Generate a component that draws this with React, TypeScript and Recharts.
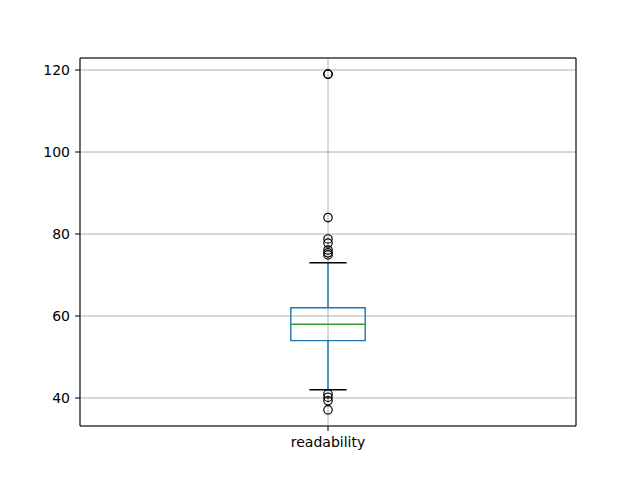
import { ComposedChart, Scatter, XAxis, YAxis, CartesianGrid, ReferenceArea, ReferenceLine } from "recharts";

const category = "readability";
const yTicks = [40, 60, 80, 100, 120];
const yDomain = [33.17, 122.93];

// box stats
const q1 = 54;
const median = 58;
const q3 = 62;
const whiskerLow = 42;
const whiskerHigh = 73;

const outliers = [119, 119, 84, 78.8, 77.8, 76.1, 75.4, 74.9, 41, 40.2, 39.3, 37.1];

const BLUE = "#1f77b4";
const GREEN = "#2ca02c";

const Ring = (props: any) => {
  const { cx, cy } = props;
  return <circle cx={cx} cy={cy} r={4.2} fill="none" stroke="#000" strokeWidth={1.2} />;
};

export default function App() {
  const pts = outliers.map((v) => ({ x: 1, y: v }));
  const half = 0.075;
  const cap = 0.0375;
  return (
    <div style={{ position: "fixed", left: 0, top: 0, width: 640, height: 480, background: "#fff" }}>
      <ComposedChart width={640} height={480} margin={{ top: 58, right: 64, left: 0, bottom: 0 }}>
        <CartesianGrid stroke="#b0b0b0" strokeWidth={1} />
        <XAxis
          dataKey="x" type="number" domain={[0.5, 1.5]} ticks={[1]} allowDataOverflow
          height={54} tickSize={5} tickMargin={6}
          tickFormatter={() => category}
          tick={{ fill: "#000", fontSize: 14, fontFamily: "DejaVu Sans" }}
          axisLine={false} tickLine={{ stroke: "#000" }}
        />
        <YAxis
          dataKey="y" type="number" domain={yDomain} ticks={yTicks} allowDataOverflow
          width={80} tickSize={5} tickMargin={5}
          tick={{ fill: "#000", fontSize: 14, fontFamily: "DejaVu Sans" }}
          axisLine={false} tickLine={{ stroke: "#000" }}
        />
        <ReferenceLine segment={[{ x: 1, y: q3 }, { x: 1, y: whiskerHigh }]} stroke={BLUE} strokeWidth={1.4} />
        <ReferenceLine segment={[{ x: 1, y: q1 }, { x: 1, y: whiskerLow }]} stroke={BLUE} strokeWidth={1.4} />
        <ReferenceLine segment={[{ x: 1 - cap, y: whiskerHigh }, { x: 1 + cap, y: whiskerHigh }]} stroke="#000" strokeWidth={1.4} />
        <ReferenceLine segment={[{ x: 1 - cap, y: whiskerLow }, { x: 1 + cap, y: whiskerLow }]} stroke="#000" strokeWidth={1.4} />
        <ReferenceArea x1={1 - half} x2={1 + half} y1={q1} y2={q3} fill="none" stroke={BLUE} strokeWidth={1.4} />
        <ReferenceLine segment={[{ x: 1 - half, y: median }, { x: 1 + half, y: median }]} stroke={GREEN} strokeWidth={1.4} />
        <Scatter data={pts} dataKey="y" shape={<Ring />} isAnimationActive={false} />
        <ReferenceArea x1={0.5} x2={1.5} y1={yDomain[0]} y2={yDomain[1]} fill="none" stroke="#000" strokeWidth={1} />
      </ComposedChart>
    </div>
  );
}
